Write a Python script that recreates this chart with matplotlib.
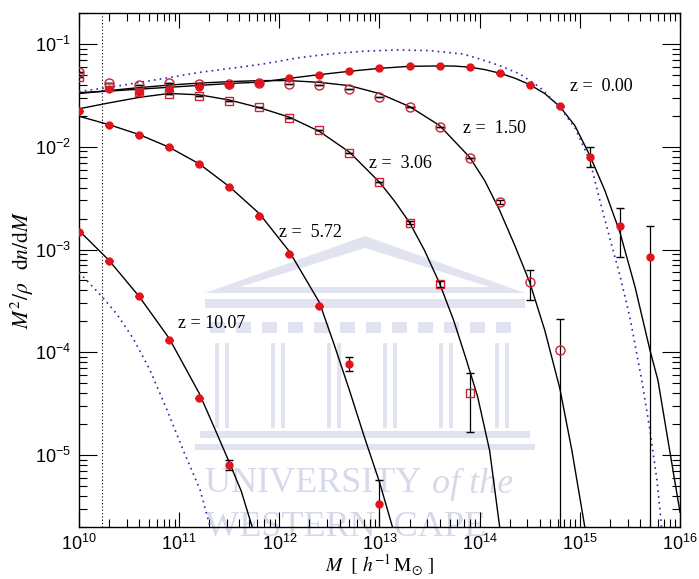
import matplotlib
matplotlib.use("Agg")
import matplotlib.pyplot as plt
import numpy as np
from matplotlib.patches import Polygon, Rectangle
from matplotlib.ticker import FixedLocator, FuncFormatter, LogLocator, NullFormatter

plt.rcParams["mathtext.fontset"] = "stix"
plt.rcParams["font.family"] = ["Liberation Serif", "DejaVu Serif"]

# --- fitted mass functions (log10 M, M^2/rho dn/dM) ---
logm_fit_z0 = [10.0, 10.3, 10.6, 10.9, 11.2, 11.5, 11.8, 12.1, 12.4, 12.7, 13.0, 13.3,
               13.6, 13.75, 13.9, 14.05, 14.2, 14.35, 14.5, 14.65, 14.8, 14.95, 15.1,
               15.25, 15.4, 15.55, 15.7, 15.78, 15.86, 16.0]
fit_z0 = [0.0336, 0.0348, 0.0363, 0.0379, 0.0395, 0.0412, 0.0425, 0.0463, 0.0503, 0.0542,
          0.0579, 0.0606, 0.0611, 0.0609, 0.0595, 0.0563, 0.0520, 0.0465, 0.0402, 0.0329,
          0.0246, 0.0161, 0.00821, 0.00375, 0.00147, 0.000438, 0.000105, 5.34e-5,
          1.82e-5, 2.79e-6]

logm_fit_z150 = [10.0, 10.3, 10.6, 10.9, 11.2, 11.5, 11.8, 12.1, 12.4, 12.7, 13.0, 13.3,
                 13.6, 13.9, 14.05, 14.2, 14.35, 14.5, 14.65, 14.8, 14.92, 15.05, 15.1]
fit_z150 = [0.0329, 0.0352, 0.0376, 0.0398, 0.0416, 0.0430, 0.0440, 0.0440, 0.0423, 0.0393,
            0.0329, 0.0246, 0.0161, 0.00791, 0.00469, 0.00240, 0.00110, 0.000479,
            0.000164, 4.47e-5, 1.12e-5, 1.99e-6, 8.5e-7]

logm_fit_z306 = [10.0, 10.3, 10.6, 10.9, 11.2, 11.5, 11.8, 12.1, 12.4, 12.7, 13.0, 13.15,
                 13.3, 13.45, 13.6, 13.74, 13.86, 13.98, 14.1, 14.2, 14.25]
fit_z306 = [0.0234, 0.0267, 0.0302, 0.0330, 0.0320, 0.0285, 0.0240, 0.0194, 0.0141,
            0.00886, 0.00452, 0.00296, 0.00183, 0.000979, 0.000468, 0.000205, 8.9e-5,
            3.7e-5, 1.1e-5, 1.99e-6, 9.0e-7]

logm_fit_z572 = [10.0, 10.3, 10.6, 10.9, 11.2, 11.5, 11.8, 12.1, 12.4, 12.55, 12.7, 12.85,
                 13.0, 13.13, 13.18]
fit_z572 = [0.0198, 0.0164, 0.01315, 0.00989, 0.00682, 0.00410, 0.00224, 0.000958,
            0.000306, 0.000117, 4.27e-5, 1.49e-5, 5.47e-6, 1.99e-6, 1.33e-6]

logm_fit_z1007 = [10.0, 10.3, 10.6, 10.9, 11.2, 11.35, 11.5, 11.62, 11.73, 11.78]
fit_z1007 = [0.00153, 0.000784, 0.000350, 0.000137, 4.00e-5, 1.86e-5, 8.53e-6, 4.46e-6,
             1.99e-6, 1.33e-6]

# Press-Schechter comparison curves (dotted)
logm_ps_z0 = [10.0, 10.31, 10.61, 10.91, 11.21, 11.59, 11.84, 12.18, 12.5, 12.83, 13.17,
              13.5, 13.83, 14.0, 14.2, 14.4, 14.6, 14.8, 14.95, 15.1, 15.2, 15.3, 15.4,
              15.5, 15.62, 15.7, 15.77, 15.81, 15.83]
ps_z0 = [0.0344, 0.0379, 0.0423, 0.0473, 0.0530, 0.0592, 0.0639, 0.0731, 0.0799, 0.0848,
         0.0874, 0.0861, 0.0799, 0.0715, 0.0615, 0.0511, 0.0379, 0.0242, 0.0154, 0.00734,
         0.00300, 0.00128, 0.000560, 0.000219, 5.23e-5, 1.75e-5, 5.70e-6, 2.33e-6, 1.33e-6]

logm_ps_z1007 = [10.0, 10.21, 10.38, 10.54, 10.71, 10.88, 11.04, 11.21, 11.31, 11.34]
ps_z1007 = [0.000599, 0.000366, 0.000234, 0.000137, 6.68e-5, 2.73e-5, 1.12e-5, 4.56e-6,
            1.99e-6, 1.49e-6]

# --- simulation points: log10 M, value, lower, upper ---
logm_pts = [10.0, 10.3, 10.6, 10.9, 11.2, 11.5, 11.8, 12.1, 12.4, 12.7, 13.0, 13.3, 13.6,
            13.9, 14.2, 14.5, 14.8, 15.1, 15.4, 15.7]

sim_z0 = [np.nan, 0.0365, 0.0344, 0.0365, 0.0379, 0.0400, 0.0418, 0.0463, 0.0503, 0.0542,
          0.0579, 0.0606, 0.0606, 0.0592, 0.0523, 0.0402, 0.0247, 0.00791, 0.00169, 0.000844]
sim_z0_lo = [np.nan] * 17 + [0.00632, 0.000844, 1e-8]
sim_z0_hi = [np.nan] * 17 + [0.00989, 0.00256, 0.00168]

sim_z150 = [0.0530, 0.0414, 0.0400, 0.0418, 0.0409, 0.0409, 0.0418, 0.0409, 0.0400, 0.0365,
            0.0307, 0.0242, 0.0157, 0.00785, 0.00289, 0.000479, 0.000106]
sim_z150_lo = [np.nan] * 14 + [0.00275, 0.000320, 1e-8]
sim_z150_hi = [np.nan] * 14 + [0.00305, 0.000626, 0.000209]

sim_z306 = [0.0473, 0.0379, 0.0339, 0.0327, 0.0310, 0.0281, 0.0242, 0.0191, 0.0147,
            0.00873, 0.00452, 0.00183, 0.000458, 4.00e-5]
sim_z306_lo = [np.nan] * 11 + [0.00176, 0.000430, 1.67e-5]
sim_z306_hi = [np.nan] * 11 + [0.00190, 0.000490, 6.25e-5]

sim_z572 = [0.0225, 0.0164, 0.01315, 0.00989, 0.00682, 0.00410, 0.00214, 0.000896,
            0.000280, 7.64e-5, 3.33e-6]
sim_z572_lo = [np.nan] * 9 + [6.54e-5, 1e-8]
sim_z572_hi = [np.nan] * 9 + [8.94e-5, 5.70e-6]

sim_z1007 = [0.00148, 0.000766, 0.000356, 0.000133, 3.63e-5, 7.98e-6]
sim_z1007_lo = [np.nan] * 5 + [7.15e-6]
sim_z1007_hi = [np.nan] * 5 + [8.94e-6]

labels = ["z =  0.00", "z =  1.50", "z =  3.06", "z =  5.72", "z = 10.07"]
label_logm = [14.9, 13.83, 12.9, 12.0, 10.99]
label_val = [0.0385, 0.0150, 0.00687, 0.00147, 0.000191]

m_res = 1.7e10  # resolution limit

RED = "#e2141b"
OPENRED = "#cc2233"
BLUE = "#2a2aa8"
WM = "#e1e3f0"
WMTXT = "#d6d9ea"


def errbars(vals, lo, hi):
    vals = np.asarray(vals, dtype=float)
    lo = np.asarray(lo, dtype=float)
    hi = np.asarray(hi, dtype=float)
    lo = np.where(np.isnan(lo), vals, lo)
    hi = np.where(np.isnan(hi), vals, hi)
    return np.vstack([vals - lo, hi - vals])


fig = plt.figure(figsize=(6.99, 5.79), dpi=100)
W, H = 699.0, 579.0
ax = fig.add_axes([79 / W, 1 - 527 / H, (680 - 79) / W, (527 - 13) / H])
ax.set_facecolor("none")


def fpx(x, y):
    return (x / W, 1 - y / H)


# faint background crest
wm = dict(transform=fig.transFigure, facecolor=WM, edgecolor="none", zorder=-2)
fig.patches.append(Polygon([fpx(205, 293), fpx(365, 236), fpx(525, 293)], **wm))
fig.patches.append(Polygon([fpx(240, 287), fpx(365, 248), fpx(490, 287)],
                           transform=fig.transFigure, facecolor="white",
                           edgecolor="none", zorder=-2))
fig.patches.append(Rectangle(fpx(205, 308), 320 / W, 9 / H, **wm))
for xb in np.arange(210, 520, 26):
    fig.patches.append(Rectangle(fpx(xb, 333), 15 / W, 11 / H, **wm))
for xc in [222, 278, 334, 390, 446, 502]:
    for dx in (-7, 3):
        fig.patches.append(Rectangle(fpx(xc + dx, 428), 4 / W, 85 / H, **wm))
fig.patches.append(Rectangle(fpx(200, 438), 330 / W, 7 / H, **wm))
fig.patches.append(Rectangle(fpx(195, 450), 340 / W, 6 / H, **wm))
fig.text(fpx(205, 0)[0], fpx(0, 484)[1], "UNIVERSITY ", color=WMTXT, fontsize=26,
         ha="left", va="center", zorder=-1)
fig.text(fpx(432, 0)[0], fpx(0, 484)[1], "of the", color=WMTXT, fontsize=26,
         style="italic", ha="left", va="center", zorder=-1)
fig.text(fpx(205, 0)[0], fpx(0, 527)[1], "WESTERN  CAPE", color=WMTXT, fontsize=26,
         ha="left", va="center", zorder=-1)

# fitted curves
for lm, v in [(logm_fit_z0, fit_z0), (logm_fit_z150, fit_z150), (logm_fit_z306, fit_z306),
              (logm_fit_z572, fit_z572), (logm_fit_z1007, fit_z1007)]:
    ax.plot(10 ** np.asarray(lm), v, color="black", lw=1.0, zorder=3)

for lm, v in [(logm_ps_z0, ps_z0), (logm_ps_z1007, ps_z1007)]:
    ax.plot(10 ** np.asarray(lm), v, color=BLUE, lw=1.2, ls=(0, (1, 2.5)), zorder=3)

ax.axvline(m_res, color="black", lw=0.8, ls=(0, (1, 2)), zorder=3)

# simulation points
mpts = 10 ** np.asarray(logm_pts)
series = [
    (sim_z0, sim_z0_lo, sim_z0_hi, "o", True, 5),
    (sim_z150, sim_z150_lo, sim_z150_hi, "o", False, 6.5),
    (sim_z306, sim_z306_lo, sim_z306_hi, "s", False, 5.5),
    (sim_z572, sim_z572_lo, sim_z572_hi, "o", True, 5),
    (sim_z1007, sim_z1007_lo, sim_z1007_hi, "o", True, 5),
]
for vals, lo, hi, mk, filled, ms in series:
    n = len(vals)
    ax.errorbar(mpts[:n], vals, yerr=errbars(vals, lo, hi), fmt=mk, ms=ms,
                mfc=RED if filled else "none", mec=RED if filled else OPENRED,
                mew=1.0, ecolor="black", elinewidth=0.9, capsize=3.2, capthick=0.9,
                zorder=4)

for txt, lm, v in zip(labels, label_logm, label_val):
    ax.text(10 ** lm, v, txt, fontsize=13, ha="left", va="center", zorder=5)

ax.set_xscale("log")
ax.set_yscale("log")
ax.set_xlim(1e10, 1e16)
ax.set_ylim(2e-6, 0.2)

ax.xaxis.set_major_locator(FixedLocator([10.0 ** k for k in range(10, 17)]))
ax.yaxis.set_major_locator(FixedLocator([10.0 ** k for k in range(-6, 0)]))
ax.xaxis.set_minor_locator(LogLocator(base=10, subs=np.arange(2, 10), numticks=20))
ax.yaxis.set_minor_locator(LogLocator(base=10, subs=np.arange(2, 10), numticks=20))
ax.xaxis.set_minor_formatter(NullFormatter())
ax.yaxis.set_minor_formatter(NullFormatter())
powfmt = FuncFormatter(lambda v, p: r"$\mathregular{10^{%d}}$" % int(round(np.log10(v))))
ax.xaxis.set_major_formatter(powfmt)
ax.yaxis.set_major_formatter(powfmt)

ax.tick_params(which="both", direction="in", top=True, right=True, width=0.8)
ax.tick_params(axis="x", which="major", length=11, pad=5)
ax.tick_params(axis="y", which="major", length=13, pad=6)
ax.tick_params(which="minor", length=6)
for lab in ax.get_xticklabels() + ax.get_yticklabels():
    lab.set_family(["Liberation Sans", "DejaVu Sans"])
    lab.set_fontsize(13)
for sp in ax.spines.values():
    sp.set_linewidth(1.0)

ax.set_xlabel(r"$M\ \ [\ h^{-1}\,\mathrm{M}_{\odot}\ ]$", fontsize=14, labelpad=-1)
ax.set_ylabel(r"$M^2/\rho\;\;\;\mathrm{d}n/\mathrm{d}M$", fontsize=15.5, labelpad=-1)

fig.savefig("out.png", dpi=100)
